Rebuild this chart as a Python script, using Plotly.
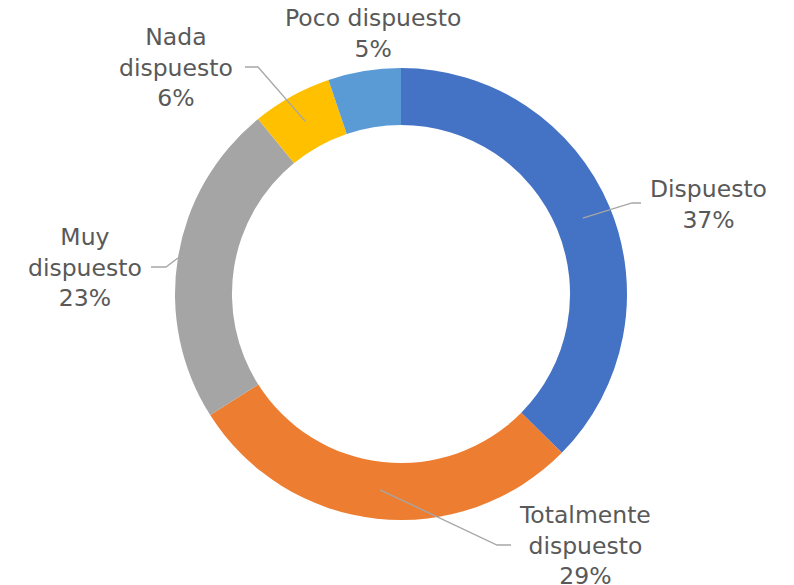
import math
import plotly.graph_objects as go

# ---- data ----
categories = ["Dispuesto", "Totalmente dispuesto", "Muy dispuesto", "Nada dispuesto", "Poco dispuesto"]
label_text = ["Dispuesto", "Totalmente<br>dispuesto", "Muy<br>dispuesto", "Nada<br>dispuesto", "Poco dispuesto"]
values = [37.4, 28.6, 23.1, 5.7, 5.2]
colors = ["#4472C4", "#ED7D31", "#A5A5A5", "#FFC000", "#5B9BD5"]

# ---- layout (pixels) ----
W, H = 794, 585
CX, CY, R_OUT = 401, 294, 226
HOLE = 0.748
# label centre positions (px) and leader-line elbows
label_pos = [(708, 204), (585, 545), (85, 268), (176, 67), (373, 33)]
elbow = [[(632, 203), (641, 203)], [(497, 545), (511, 545)], [(166, 267), (151, 267)], [(258, 67), (245, 67)], None]
anchor_r = [197, 197, 226, 197, None]

def px(x):
    return x / W

def py(y):
    return 1 - y / H

fig = go.Figure()
fig.add_trace(go.Pie(
    labels=categories, values=values, sort=False, direction="clockwise", rotation=0,
    hole=HOLE, marker=dict(colors=colors, line=dict(color="white", width=0)),
    textinfo="none", hoverinfo="label+percent", showlegend=False,
    domain=dict(x=[px(CX - R_OUT), px(CX + R_OUT)], y=[py(CY + R_OUT), py(CY - R_OUT)]),
))

total = sum(values)
cum = 0
shapes = []
annotations = []
for i, v in enumerate(values):
    mid = (cum + v / 2) / total * 2 * math.pi
    cum += v
    pct = round(v / total * 100)
    lx, ly = label_pos[i]
    annotations.append(dict(
        x=px(lx), y=py(ly), xref="paper", yref="paper", showarrow=False,
        text=f"{label_text[i]}<br>{pct}%", align="center",
        font=dict(family="DejaVu Sans, sans-serif", size=23.5, color="#595959"),
        xanchor="center", yanchor="middle",
    ))
    if elbow[i] is not None:
        ax = CX + anchor_r[i] * math.sin(mid)
        ay = CY - anchor_r[i] * math.cos(mid)
        pts = [(ax, ay)] + elbow[i]
        path = "M " + " L ".join(f"{px(x):.5f},{py(y):.5f}" for x, y in pts)
        shapes.append(dict(type="path", path=path, xref="paper", yref="paper",
                           line=dict(color="#A6A6A6", width=1.3)))

fig.update_layout(
    width=W, height=H, margin=dict(l=0, r=0, t=0, b=0),
    paper_bgcolor="white", plot_bgcolor="white",
    shapes=shapes, annotations=annotations,
)
fig.write_html("out.html", config={"displayModeBar": False},
               post_script="document.body.style.margin='0';")
